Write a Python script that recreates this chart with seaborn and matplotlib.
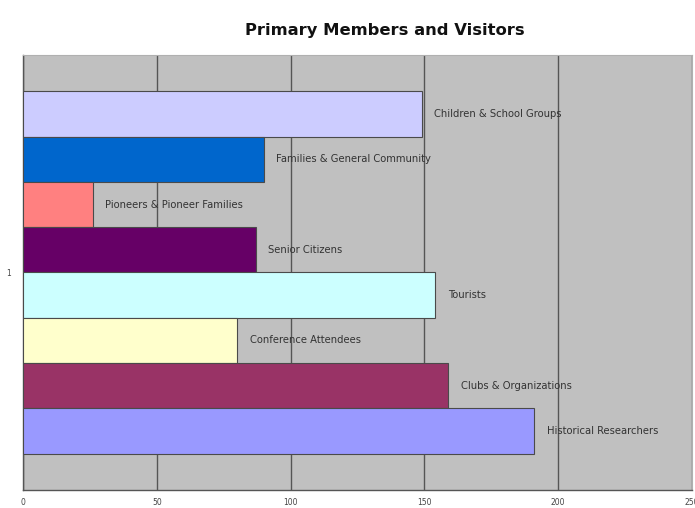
import matplotlib
matplotlib.use("Agg")
import matplotlib.pyplot as plt
import pandas as pd
import seaborn as sns

# Chart data (top bar first)
GROUPS = [
    "Children & School Groups",
    "Families & General Community",
    "Pioneers & Pioneer Families",
    "Senior Citizens",
    "Tourists",
    "Conference Attendees",
    "Clubs & Organizations",
    "Historical Researchers",
]
COUNTS = [149, 90, 26, 87, 154, 80, 159, 191]
CATEGORY = ["1"] * len(GROUPS)
X_TICKS = [0, 50, 100, 150, 200, 250]

# Classic spreadsheet palette
COLORS = ["#CCCCFF", "#0066CC", "#FF8080", "#660066",
          "#CCFFFF", "#FFFFCC", "#993366", "#9999FF"]

df = pd.DataFrame({"group": GROUPS, "count": COUNTS, "cat": CATEGORY})

sns.set_style("white")
plt.rcParams["font.family"] = ["DejaVu Sans"]

fig = plt.figure(figsize=(6.95, 5.08), dpi=100)
ax = fig.add_axes([23 / 695, 1 - 490 / 508, 669 / 695, 435 / 508])
ax.set_facecolor("#C0C0C0")

sns.barplot(data=df, x="count", y="cat", hue="group", hue_order=GROUPS,
            palette=COLORS, saturation=1, orient="h", width=0.833, gap=0,
            dodge=True, edgecolor="#4a4a4a", linewidth=0.8, legend=False,
            ax=ax, zorder=3)

# series names next to each bar
for cont, name in zip(ax.containers, GROUPS):
    ax.bar_label(cont, labels=[name], padding=9, fontsize=7.2,
                 color="#333333")

ax.set_xlim(0, 250)
ax.set_ylim(0.5, -0.5)
ax.set_xticks(X_TICKS)
ax.set_xticklabels([str(t) for t in X_TICKS])
ax.set_yticks([0])
ax.set_yticklabels(["1"])
ax.set_yticks([-0.5, 0.5], minor=True)
ax.tick_params(axis="both", labelsize=5.5, labelcolor="#444444",
               colors="#444444", length=3, width=0.8, pad=3)
ax.tick_params(axis="y", which="major", length=0, pad=9)
ax.tick_params(axis="y", which="minor", length=3, width=0.8)
ax.grid(axis="x", color="#555555", linewidth=1.0, zorder=1)
ax.set_axisbelow(True)
ax.set_xlabel("")
ax.set_ylabel("")

for side in ["top", "right"]:
    ax.spines[side].set_color("#B0B0B0")
    ax.spines[side].set_linewidth(0.8)
for side in ["left", "bottom"]:
    ax.spines[side].set_color("#555555")
    ax.spines[side].set_linewidth(1.0)

fig.text(385 / 695, 1 - 30 / 508, "Primary Members and Visitors",
         ha="center", va="center", fontsize=11.8, fontweight="bold",
         color="#111111")

plt.savefig("out.png", dpi=100)
plt.close()
